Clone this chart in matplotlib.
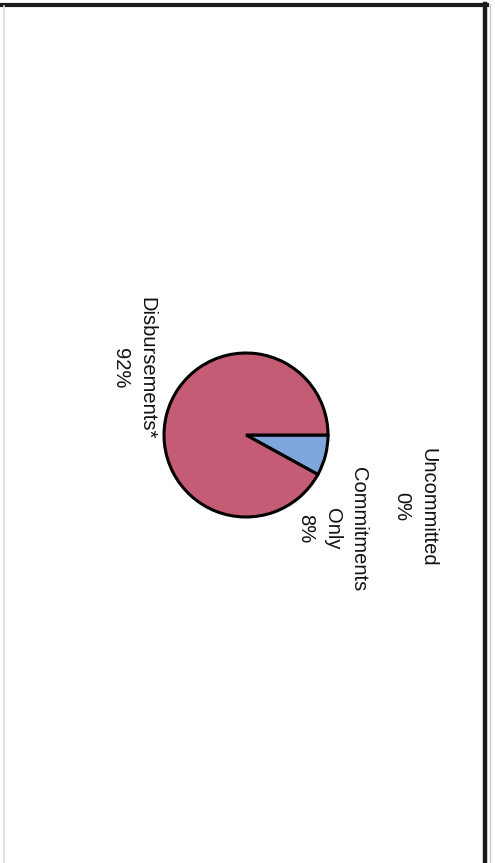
import numpy as np
import matplotlib.pyplot as plt
from matplotlib.lines import Line2D

plt.rcParams['font.family'] = ['Liberation Sans', 'DejaVu Sans']

# funding status shares (percent)
labels = ['Uncommitted', 'Commitments\nOnly', 'Disbursements*']
values = [0, 8, 92]
colors = ['#E8E8B0', '#7EA6DC', '#C35C74']

fig = plt.figure(figsize=(4.95, 8.63), dpi=100)
fig.patch.set_facecolor('white')
ax = fig.add_axes([0, 0, 1, 1])

# page is turned on its side, so the pie starts at 3 o'clock going clockwise
ax.pie(values, colors=colors, startangle=0, counterclock=False,
       center=(246, 428), radius=82,
       wedgeprops=dict(edgecolor='black', linewidth=2.2))

# pie() resets the limits, so set them afterwards
ax.set_xlim(0, 495)
ax.set_ylim(0, 863)
ax.set_aspect('equal')
ax.axis('off')

label_pos = [(415, 356), (332, 334), (134, 495)]
for lab, v, (x, y) in zip(labels, values, label_pos):
    ax.text(x, y, f'{lab}\n{v}%', rotation=-90, ha='center', va='center',
            multialignment='center', fontsize=14.5, linespacing=1.5,
            color='#111111')

# scanned frame: heavy top and right rule, faint left rule
fig.add_artist(Line2D([0, 487 / 495], [1 - 5 / 863, 1 - 5 / 863],
                      color='#1a1a1a', linewidth=3, transform=fig.transFigure))
fig.add_artist(Line2D([485 / 495, 485 / 495], [0, 1 - 4 / 863],
                      color='#1a1a1a', linewidth=3.2, transform=fig.transFigure))
fig.add_artist(Line2D([4 / 495, 4 / 495], [0, 1 - 6 / 863],
                      color='#dddddd', linewidth=1.2, transform=fig.transFigure))
fig.add_artist(Line2D([490 / 495, 490 / 495], [0, 1 - 4 / 863],
                      color='#cccccc', linewidth=1, transform=fig.transFigure))

fig.savefig('out.png', dpi=100, facecolor='white')
